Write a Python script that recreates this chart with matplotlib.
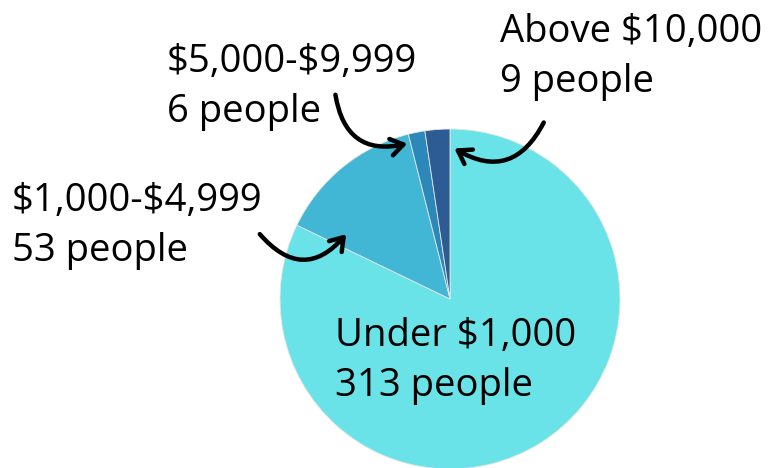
import matplotlib.pyplot as plt
from matplotlib.patches import FancyArrowPatch

W, H = 783, 468

# data
categories = ["Under $1,000", "$1,000-$4,999", "$5,000-$9,999", "Above $10,000"]
people = [313, 53, 6, 9]
colors = ["#6ae3e8", "#42b6d5", "#2b88b8", "#2d5b94"]

# label placement in pixel coords (left x, first line centre y)
label_pos = [(335, 336), (12, 201), (167, 62), (500, 32)]

plt.rcParams["font.family"] = ["Open Sans", "DejaVu Sans"]
plt.rcParams["text.parse_math"] = False

fig = plt.figure(figsize=(W / 100, H / 100), dpi=100)
ax = fig.add_axes([0, 0, 1, 1])

ax.pie(people, colors=colors, startangle=90, counterclock=False,
       center=(450, H - 299), radius=170, frame=True,
       wedgeprops=dict(linewidth=0.6, edgecolor="#e6e6e6"))
ax.set_xlim(0, W)
ax.set_ylim(0, H)
ax.set_aspect("equal")
ax.axis("off")

for cat, n, (x, y) in zip(categories, people, label_pos):
    ax.text(x, H - y, cat, fontsize=27.5, va="center", ha="left")
    ax.text(x, H - y - 50, f"{n} people", fontsize=27.5, va="center", ha="left")

# hand-drawn style arrows (start, end, curvature)
arrows = [((545, 120), (452, 147), -0.55),
          ((335, 92), (410, 143), 0.55),
          ((258, 232), (348, 232), 0.6)]
for (x0, y0), (x1, y1), rad in arrows:
    ax.add_patch(FancyArrowPatch((x0, H - y0), (x1, H - y1),
                                 connectionstyle=f"arc3,rad={rad}",
                                 arrowstyle="->,head_length=9,head_width=6",
                                 lw=3.2, color="black", capstyle="round",
                                 joinstyle="round"))

fig.savefig("out.png", dpi=100, facecolor="white")
